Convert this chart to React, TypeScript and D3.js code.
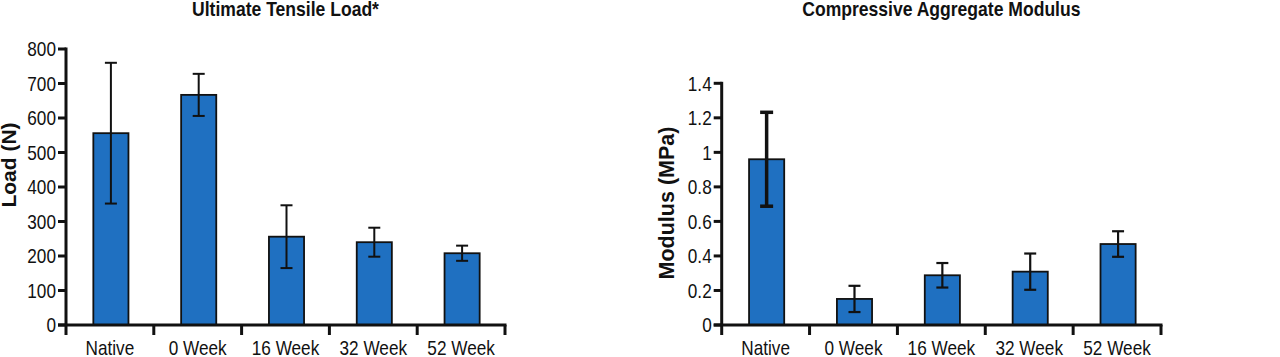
import React from "react";
import * as d3 from "d3";

const categories = ["Native", "0 Week", "16 Week", "32 Week", "52 Week"];

const tensileMeans = [556, 667, 256, 240, 208];
const tensileErrors = [204, 61, 91, 42, 22];
const tensileTicks = [0, 100, 200, 300, 400, 500, 600, 700, 800];

const modulusMeans = [0.96, 0.151, 0.288, 0.309, 0.469];
const modulusErrors = [0.272, 0.076, 0.071, 0.105, 0.074];
const modulusTicks = [0, 0.2, 0.4, 0.6, 0.8, 1, 1.2, 1.4];

const FONT = "'Liberation Sans', Arial, Helvetica, sans-serif";
const BLUE = "#1f70c1";

type TProps = {
  x: number;
  y: number;
  sx: number;
  anchor: "start" | "middle" | "end";
  size: number;
  bold?: boolean;
  dy?: string;
  children: React.ReactNode;
};

function CText(t: TProps) {
  return (
    <text
      transform={`translate(${t.x},${t.y}) scale(${t.sx},1)`}
      textAnchor={t.anchor}
      dy={t.dy}
      fontFamily={FONT}
      fontWeight={t.bold ? "bold" : "normal"}
      fontSize={t.size}
      fill="#111"
    >
      {t.children}
    </text>
  );
}

type PanelProps = {
  title: string;
  yLabel: string;
  means: number[];
  errors: number[];
  ticks: number[];
  yMax: number;
  x0: number;
  x1: number;
  yTop: number;
  yBottom: number;
  titleY: number;
  labelX: number;
  labelY: number;
  labelSize: number;
  errWidths: number[];
  fmt: (v: number) => string;
};

function Panel(p: PanelProps) {
  const x = d3.scaleBand<string>().domain(categories).range([p.x0, p.x1]).paddingInner(0.6).paddingOuter(0.3);
  const xb = d3.scaleBand<string>().domain(categories).range([p.x0, p.x1]);
  const y = d3.scaleLinear().domain([0, p.yMax]).range([p.yBottom, p.yTop]);
  const bw = x.bandwidth();
  return (
    <g>
      <CText x={(p.x0 + p.x1) / 2} y={p.titleY} sx={0.9} anchor="middle" size={19.5} bold>
        {p.title}
      </CText>
      <text
        transform={`translate(${p.labelX},${p.labelY}) rotate(-90)`}
        textAnchor="middle"
        fontFamily={FONT}
        fontWeight="bold"
        fontSize={p.labelSize}
        fill="#111"
      >
        {p.yLabel}
      </text>
      {categories.map((c, i) => {
        const cx = (xb(c) as number) + xb.bandwidth() / 2;
        return (
          <rect
            key={c}
            x={cx - bw / 2 + 1}
            y={y(p.means[i])}
            width={bw}
            height={y(0) - y(p.means[i])}
            fill={BLUE}
            stroke="#111"
            strokeWidth={1.8}
          />
        );
      })}
      {categories.map((c, i) => {
        const cx = (xb(c) as number) + xb.bandwidth() / 2 + 1;
        const hi = y(p.means[i] + p.errors[i]);
        const lo = y(p.means[i] - p.errors[i]);
        const sw = p.errWidths[i];
        const cap = sw > 2.5 ? 13 : 12;
        return (
          <g key={c} stroke="#111" strokeWidth={sw}>
            <line x1={cx} x2={cx} y1={hi} y2={lo} />
            <line x1={cx - cap / 2} x2={cx + cap / 2} y1={hi} y2={hi} />
            <line x1={cx - cap / 2} x2={cx + cap / 2} y1={lo} y2={lo} />
          </g>
        );
      })}
      {/* y axis */}
      <line x1={p.x0} x2={p.x0} y1={p.yTop - 1.5} y2={p.yBottom + 10} stroke="#111" strokeWidth={3} />
      {p.ticks.map((t) => (
        <g key={t}>
          <line x1={p.x0 - 8} x2={p.x0} y1={y(t)} y2={y(t)} stroke="#111" strokeWidth={3} />
          <CText x={p.x0 - 10} y={y(t)} sx={0.86} dy="0.36em" anchor="end" size={20}>
            {p.fmt(t)}
          </CText>
        </g>
      ))}
      {/* x axis */}
      <line x1={p.x0 - 8} x2={p.x1 + 1.5} y1={p.yBottom} y2={p.yBottom} stroke="#111" strokeWidth={3} />
      {categories.map((c) => {
        const right = (xb(c) as number) + xb.bandwidth();
        const cx = (xb(c) as number) + xb.bandwidth() / 2;
        return (
          <g key={c}>
            <line x1={right} x2={right} y1={p.yBottom} y2={p.yBottom + 10} stroke="#111" strokeWidth={3} />
            <CText x={cx} y={p.yBottom + 30} sx={0.86} anchor="middle" size={20}>
              {c}
            </CText>
          </g>
        );
      })}
    </g>
  );
}

export default function App() {
  return (
    <svg width={1280} height={357} style={{ position: "absolute", left: 0, top: 0, background: "#fff" }}>
      <rect x={0} y={0} width={1280} height={357} fill="#fff" />
      <Panel
        title="Ultimate Tensile Load*"
        yLabel="Load (N)"
        means={tensileMeans}
        errors={tensileErrors}
        ticks={tensileTicks}
        yMax={800}
        x0={66}
        x1={505}
        yTop={49}
        yBottom={325}
        titleY={16}
        labelX={16}
        labelY={165}
        labelSize={21}
        errWidths={[2, 2, 2, 2, 2]}
        fmt={(v) => String(v)}
      />
      <Panel
        title="Compressive Aggregate Modulus"
        yLabel="Modulus (MPa)"
        means={modulusMeans}
        errors={modulusErrors}
        ticks={modulusTicks}
        yMax={1.4}
        x0={721.7}
        x1={1161}
        yTop={83.3}
        yBottom={325}
        titleY={16}
        labelX={674}
        labelY={203}
        labelSize={21.5}
        errWidths={[3.5, 2.2, 2.2, 2.2, 2.2]}
        fmt={(v) => d3.format("~g")(v)}
      />
    </svg>
  );
}
